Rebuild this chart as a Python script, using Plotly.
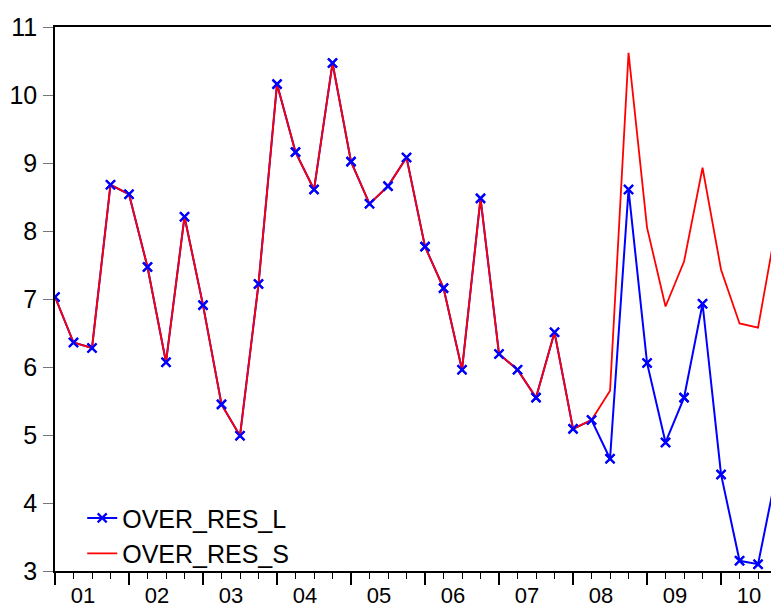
import plotly.graph_objects as go

quarters = [f"{y}Q{q}" for y in range(2001, 2011) for q in range(1, 5)]
year_labels = ["01", "02", "03", "04", "05", "06", "07", "08", "09", "10"]

over_res_l = [7.03, 6.36, 6.28, 8.68, 8.54, 7.47, 6.07, 8.21, 6.91, 5.45,
              4.99, 7.22, 10.16, 9.16, 8.61, 10.47, 9.02, 8.40, 8.66, 9.08,
              7.77, 7.16, 5.96, 8.48, 6.19, 5.96, 5.55, 6.51, 5.09, 5.22,
              4.65, 8.61, 6.06, 4.89, 5.55, 6.93, 4.42, 3.15, 3.10, 4.45]
over_res_s = [7.03, 6.36, 6.28, 8.68, 8.54, 7.47, 6.07, 8.21, 6.91, 5.45,
              4.99, 7.22, 10.16, 9.16, 8.61, 10.47, 9.02, 8.40, 8.66, 9.08,
              7.77, 7.16, 5.96, 8.48, 6.19, 5.96, 5.55, 6.51, 5.09, 5.22,
              5.65, 10.62, 8.05, 6.89, 7.55, 8.93, 7.43, 6.64, 6.58, 8.10]

x = list(range(len(quarters)))
year_ticks = [i for i, q in enumerate(quarters) if q.endswith("Q1")]

FONT = "Liberation Sans, Arial, sans-serif"

fig = go.Figure()
fig.add_trace(go.Scatter(
    x=x, y=over_res_l, mode="lines+markers", name="OVER_RES_L",
    line=dict(color="#0000FF", width=2),
    marker=dict(symbol="x-thin", size=9, color="#0000FF",
                line=dict(color="#0000FF", width=2.2)),
))
fig.add_trace(go.Scatter(
    x=x, y=over_res_s, mode="lines", name="OVER_RES_S",
    line=dict(color="#FF0000", width=1.8),
))
fig.add_trace(go.Scatter(
    x=x, y=over_res_l, mode="markers", showlegend=False, hoverinfo="skip",
    marker=dict(symbol="x-thin", size=9, color="#0000FF",
                line=dict(color="#0000FF", width=2.2)),
))

fig.update_layout(
    width=771, height=610,
    margin=dict(l=55, r=0, t=27, b=39, autoexpand=False),
    paper_bgcolor="white", plot_bgcolor="white",
    font=dict(family=FONT, color="black", size=24),
    showlegend=True,
    legend=dict(
        x=0.038, y=0.065, xanchor="left", yanchor="middle",
        bgcolor="rgba(0,0,0,0)", borderwidth=0,
        font=dict(size=25, family=FONT, color="black"),
        tracegroupgap=0,
    ),
)

fig.update_xaxes(
    range=[0, 38.7], automargin=False,
    tickmode="array", tickvals=year_ticks, ticktext=year_labels,
    ticks="outside", ticklen=12, tickwidth=1.5, tickcolor="black",
    ticklabelshift=28, ticklabelstandoff=-8,
    minor=dict(dtick=1, tick0=0, ticks="outside", ticklen=6,
               tickwidth=1, tickcolor="black"),
    showline=True, linecolor="black", linewidth=1.5, mirror=True,
    showgrid=False, zeroline=False,
    tickfont=dict(size=22, family=FONT, color="black"),
)
fig.update_yaxes(
    range=[3, 11], dtick=1, tick0=3, automargin=False,
    ticks="outside", ticklen=10, tickwidth=1.2, tickcolor="#777777",
    ticklabelstandoff=1,
    showline=True, linecolor="black", linewidth=1.5, mirror=False,
    showgrid=False, zeroline=False,
    tickfont=dict(size=25, family=FONT, color="black"),
)

fig.write_html("out.html")
